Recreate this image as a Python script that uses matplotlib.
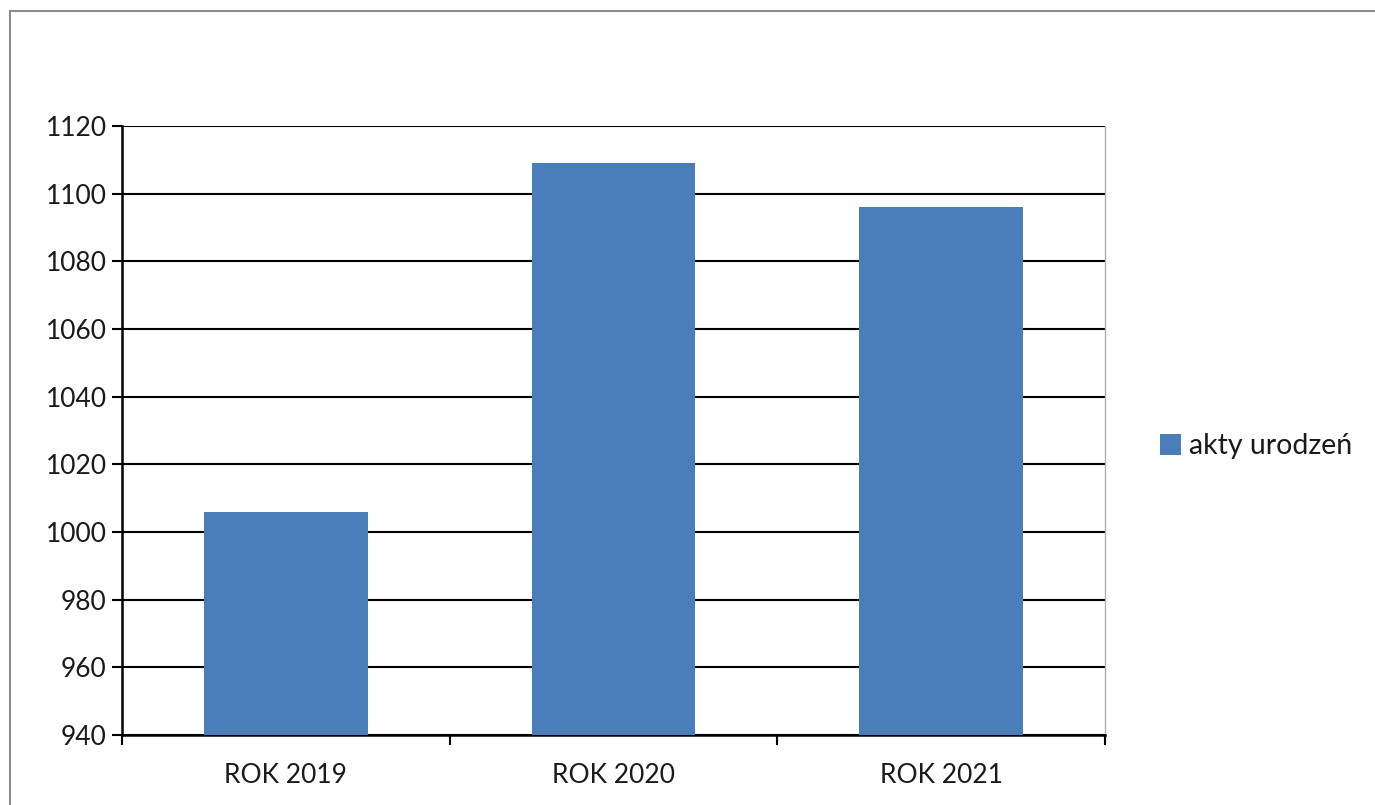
import matplotlib
matplotlib.use("Agg")
import matplotlib.pyplot as plt
from matplotlib.patches import Rectangle
import numpy as np

years = ["ROK 2019", "ROK 2020", "ROK 2021"]
births = [1006, 1109, 1096]
series_name = "akty urodzeń"

plt.rcParams["font.family"] = ["Lato", "DejaVu Sans"]

fig = plt.figure(figsize=(13.75, 8.05), dpi=100)
# outer chart frame
fig.patches.append(Rectangle((10 / 1375, -0.05), 1.2, 1 - 11 / 805 + 0.05,
                             transform=fig.transFigure, fill=False,
                             edgecolor="#8c8c8c", linewidth=1.5))

ax = fig.add_axes([122 / 1375, 70 / 805, 983 / 1375, 609 / 805])
ind = np.arange(len(years))
bars = ax.bar(ind, births, 0.5, color="#4a7ebb", zorder=5, label=series_name)

ax.set_xlim(-0.5, len(years) - 0.5)
ax.set_ylim(940, 1120)
ax.set_yticks(np.arange(940, 1121, 20))
ax.set_xticks(ind)
ax.set_xticklabels(years)
ax.set_xticks(np.arange(-0.5, len(years), 1), minor=True)
ax.tick_params(axis="x", which="major", length=0, pad=20)
ax.tick_params(axis="x", which="minor", length=7, width=1.5, direction="out")
ax.tick_params(axis="y", length=7, width=1.5, direction="out", pad=4)
ax.tick_params(labelsize=19, labelcolor="#1a1a1a")
ax.grid(True, axis="y", color="black", linewidth=1.5, zorder=1)
ax.set_axisbelow(True)

for s in ["left", "bottom"]:
    ax.spines[s].set_linewidth(1.8)
    ax.spines[s].set_color("black")
ax.spines["top"].set_visible(False)
ax.spines["right"].set_color("#b0b0b0")
ax.spines["right"].set_linewidth(1)

ax.legend(loc="center left", bbox_to_anchor=(1.03, 0.474), frameon=False,
          fontsize=20.5, handlelength=0.75, handleheight=0.75, handletextpad=0.25,
          labelcolor="#1a1a1a")

plt.savefig("out.png", dpi=100)
